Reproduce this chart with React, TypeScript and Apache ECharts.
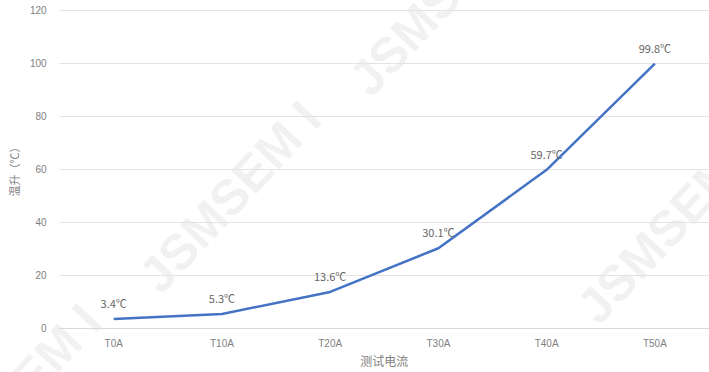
import React, { useEffect, useRef } from "react";
import * as echarts from "echarts";

const categories = ["T0A", "T10A", "T20A", "T30A", "T40A", "T50A"];
const tempRise = [3.4, 5.3, 13.6, 30.1, 59.7, 99.8];
const yTicks = { min: 0, max: 120, interval: 20 };
const xName = "测试电流";
const yName = "温升（℃）";
const watermarkText = "JSMSEM I";

export default function App() {
  const ref = useRef<HTMLDivElement>(null);
  useEffect(() => {
    if (!ref.current) return;
    const chart = echarts.init(ref.current, null, { renderer: "svg" });
    const wm = (x: number, y: number) => ({
      type: "text",
      x,
      y,
      rotation: 0.82,
      silent: true,
      z: -10,
      style: {
        text: watermarkText,
        fill: "rgba(0,0,0,0.055)",
        font: "bold 50px 'Liberation Sans Narrow', 'Liberation Sans', Arial, sans-serif",
        textAlign: "center",
        textVerticalAlign: "middle",
      },
    });
    chart.setOption({
      animation: false,
      backgroundColor: "#ffffff",
      graphic: [wm(230, 197), wm(440, 0), wm(668, 228), wm(10, 400)],
      grid: { left: 53, top: 10, width: 661, height: 318, containLabel: false },
      xAxis: {
        type: "category",
        data: categories,
        boundaryGap: true,
        name: xName,
        nameLocation: "middle",
        nameGap: 26,
        nameTextStyle: { color: "#7f7f7f", fontSize: 12, fontFamily: "'Noto Sans CJK SC', serif" },
        axisLine: { lineStyle: { color: "#d9d9d9" } },
        axisTick: { show: false },
        axisLabel: { color: "#7f7f7f", fontSize: 10, margin: 10, fontFamily: "'Liberation Sans Narrow', 'Liberation Sans', sans-serif" },
      },
      yAxis: {
        type: "value",
        min: yTicks.min,
        max: yTicks.max,
        interval: yTicks.interval,
        name: yName,
        nameLocation: "middle",
        nameGap: 28,
        nameRotate: 90,
        nameTextStyle: { color: "#7f7f7f", fontSize: 11, fontFamily: "'Noto Sans CJK SC', serif" },
        axisLine: { show: false },
        axisTick: { show: false },
        axisLabel: { color: "#7f7f7f", fontSize: 10, margin: 13, fontFamily: "'Liberation Sans', sans-serif" },
        splitLine: { lineStyle: { color: "#e3e3e3" } },
      },
      series: [
        {
          type: "line",
          data: tempRise,
          showSymbol: true,
          symbol: "circle",
          symbolSize: 1,
          itemStyle: { color: "rgba(0,0,0,0)" },
          lineStyle: { color: "#4472C4", width: 2.5 },
          label: {
            show: true,
            position: "top",
            distance: 10,
            formatter: (p: any) => `${p.value}℃`,
            color: "#666666",
            fontSize: 11,
            fontFamily: "'Noto Sans CJK SC', serif",
          },
        },
      ],
    });
    return () => chart.dispose();
  }, []);
  return (
    <div
      ref={ref}
      style={{ position: "absolute", left: 0, top: 0, width: 709, height: 372 }}
    />
  );
}
